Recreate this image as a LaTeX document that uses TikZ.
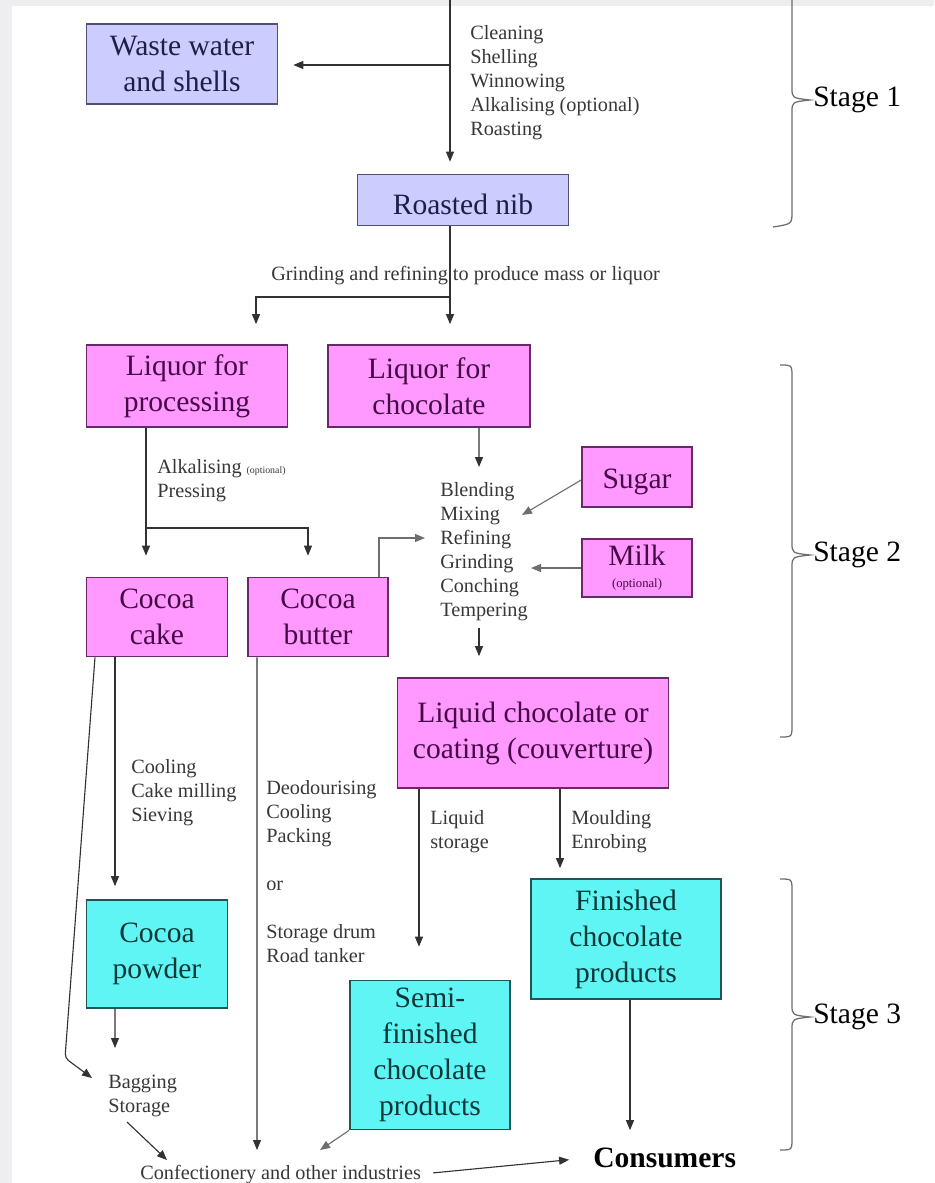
\documentclass[tikz,border=0pt]{standalone}
\usepackage{fontspec}
\setmainfont{Liberation Serif}
\usetikzlibrary{arrows.meta,calc}
\definecolor{ink}{RGB}{50,50,50}
\definecolor{softink}{RGB}{110,110,110}
\definecolor{nibfill}{RGB}{204,204,255}
\definecolor{nibedge}{RGB}{80,80,115}
\definecolor{nibtext}{RGB}{30,30,70}
\definecolor{liqfill}{RGB}{255,153,255}
\definecolor{liqedge}{RGB}{105,40,105}
\definecolor{liqtext}{RGB}{70,10,70}
\definecolor{prodfill}{RGB}{95,245,245}
\definecolor{prodedge}{RGB}{30,85,85}
\definecolor{prodtext}{RGB}{10,55,55}
\definecolor{labelgray}{RGB}{55,55,55}
\definecolor{framegray}{RGB}{238,238,241}
\tikzset{
  flow/.style={-{Triangle[length=2.5mm,width=2mm]},line width=0.8pt,draw=ink},
  stagebrace/.style={line width=0.9pt,draw=softink},
  shellbox/.style={draw=nibedge,fill=nibfill,text=nibtext,line width=1.2pt,align=center,inner sep=0pt,
    font=\fontsize{21}{25.6}\selectfont,execute at begin node={\rule{0pt}{21.5pt}}},
  liquorbox/.style={shellbox,draw=liqedge,fill=liqfill,text=liqtext},
  productbox/.style={shellbox,draw=prodedge,fill=prodfill,text=prodtext},
  opslabel/.style={align=left,inner sep=0pt,anchor=base west,text=labelgray,font=\fontsize{14.4}{17}\selectfont},
  stagelabel/.style={anchor=west,inner sep=0pt,font=\fontsize{21}{25}\selectfont},
  boxsize/.style 2 args={minimum width=#1*0.025cm,minimum height=#2*0.025cm}
}
% right-hand brace: top, tip, bottom
\newcommand{\stagebrace}[3]{%
  \draw[stagebrace] (780,#1) .. controls (792,#1) .. (792,#1+12) -- (792,#2-12)
    .. controls (792,#2-2) .. (810,#2) .. controls (792,#2+2) .. (792,#2+12)
    -- (792,#3-12) .. controls (792,#3) .. (780,#3);}

\begin{document}
\begin{tikzpicture}[x=0.025cm,y=-0.025cm]
  \useasboundingbox (0,0) rectangle (934,1183);
  \fill[framegray] (0,0) rectangle (12,1183);
  \fill[framegray] (0,0) rectangle (934,6);

  % boxes
  \node[shellbox,boxsize={191}{80}] (waste) at (182,64) {Waste water\\and shells};
  \node[shellbox,boxsize={211}{51}] (nib) at (463,200) {Roasted nib};
  \node[liquorbox,boxsize={201}{82}] (lqproc) at (187,386) {Liquor for\\processing};
  \node[liquorbox,boxsize={202}{82}] (lqchoc) at (429,386) {Liquor for\\chocolate};
  \node[liquorbox,boxsize={110}{60}] (sugar) at (637,477) {Sugar};
  \node[liquorbox,boxsize={110}{58}] (milk) at (637,568) {Milk\\[-10pt]{\fontsize{9}{10}\selectfont(optional)}};
  \node[liquorbox,boxsize={141}{79}] (cake) at (157,617) {Cocoa\\cake};
  \node[liquorbox,boxsize={140}{79}] (butter) at (318,617) {Cocoa\\butter};
  \node[liquorbox,boxsize={271}{110}] (liquid) at (533,733) {Liquid chocolate or\\coating (couverture)};
  \node[productbox,boxsize={141}{108}] (powder) at (157,954) {Cocoa\\powder};
  \node[productbox,boxsize={190}{120}] (finished) at (626,939) {Finished\\chocolate\\products};
  \node[productbox,boxsize={160}{149}] (semi) at (430,1055) {Semi-\\finished\\chocolate\\products};

  % process steps (placed by the baseline of their last line)
  \node[opslabel] (cleanops) at (470,135) {Cleaning\\Shelling\\Winnowing\\Alkalising (optional)\\Roasting};
  \node[opslabel] (grind) at (271,280) {Grinding and refining to produce mass or liquor};
  \node[opslabel] (pressops) at (157,497) {Alkalising {\fontsize{7}{8}\selectfont(optional)}\\Pressing};
  \node[opslabel] (blendops) at (440,616) {Blending\\Mixing\\Refining\\Grinding\\Conching\\Tempering};
  \node[opslabel] (cakeops) at (131,821) {Cooling\\Cake milling\\Sieving};
  \node[opslabel] (butterops) at (266,962) {Deodourising\\Cooling\\Packing\\[17pt]or\\[17pt]Storage drum\\Road tanker};
  \node[opslabel] (storeops) at (430,848) {Liquid\\storage};
  \node[opslabel] (mouldops) at (571,848) {Moulding\\Enrobing};
  \node[opslabel] (bagops) at (108,1112) {Bagging\\Storage};
  \node[opslabel] (confect) at (140,1179) {Confectionery and other industries};
  \node[opslabel,text=black,font=\fontsize{21}{25}\selectfont\bfseries] (consumers) at (593,1167) {Consumers};

  % stage 1
  \coordinate (feed) at (450,0);
  \coordinate (shellout) at (450,65);
  \draw[flow,shorten >=3mm] (feed) -- (feed |- nib.north);
  \draw[flow,shorten >=3.75mm] (shellout) -- (waste.east |- shellout);

  % stage 2
  \coordinate (split) at (450,297);
  \draw[flow,shorten >=5mm] (nib.south -| feed) -- (lqchoc.north -| feed);
  \draw[flow,shorten >=5mm] (split) -| ([xshift=17.25mm]lqproc.north);
  \coordinate (pressout) at (146,528);
  \draw[flow,shorten >=5.25mm] (lqproc.south -| pressout) -- (cake.north -| pressout);
  \draw[flow,shorten >=5.25mm] (pressout) -| ([xshift=-2.5mm]butter.north);
  \coordinate (mixtop) at (479,467);
  \coordinate (mixbot) at (479,628);
  \coordinate (sugarin) at (522,515);
  \coordinate (milkin) at (531,568);
  \coordinate (butterin) at (425,538);
  \draw[flow] ([xshift=12.5mm]lqchoc.south) -- (mixtop);
  \draw[flow,draw=softink] ([yshift=-0.75mm]sugar.west) -- (sugarin);
  \draw[flow,draw=softink] (milk.west) -- (milkin);
  \draw[flow,draw=softink] ([xshift=15.25mm]butter.north) |- (butterin);
  \draw[flow,shorten >=5.25mm] (mixbot) -- (liquid.north -| mixbot);

  % stage 3
  \coordinate (bend) at (65,1058);
  \coordinate (bagin) at (92,1078);
  \coordinate (bagtop) at (115,1048);
  \coordinate (bagout) at (127,1122);
  \coordinate (confin) at (167,1160);
  \coordinate (drumin) at (257,1150);
  \coordinate (semiin) at (320,1150);
  \draw[flow,shorten >=3.25mm] ([xshift=-10.5mm]cake.south) -- ([xshift=-10.5mm]powder.north);
  \draw[flow,rounded corners=3pt] ([xshift=-15.5mm]cake.south) -- (bend) -- (bagin);
  \draw[flow] ([xshift=-10.5mm]powder.south) -- (bagtop);
  \draw[flow] (bagout) -- (confin);
  \draw[flow] ([xshift=-15.25mm]butter.south) -- (drumin);
  \draw[flow,shorten >=8.25mm] ([xshift=-28.5mm]liquid.south) coordinate (storeout) -- (storeout |- semi.north);
  \draw[flow,shorten >=2.5mm] ([xshift=6.75mm]liquid.south) coordinate (mouldout) -- (mouldout |- finished.north);
  \draw[flow,shorten >=4.25mm] ([xshift=1mm]finished.south) coordinate (packout) -- (packout |- consumers.north);
  \draw[flow,draw=softink] (semi.south west) -- (semiin);
  \draw[flow,shorten <=3mm,shorten >=6mm] (confect.east) -- (consumers.west);

  % stages
  \draw[stagebrace] (792,0) -- (792,88) .. controls (792,98) .. (810,100)
    .. controls (792,102) .. (792,112) -- (792,212) .. controls (792,224) .. (773,227);
  \stagebrace{365}{555}{737}
  \stagebrace{879}{1017}{1150}
  \node[stagelabel] (stage1) at (813,100) {Stage 1};
  \node[stagelabel] (stage2) at (813,555) {Stage 2};
  \node[stagelabel] (stage3) at (813,1017) {Stage 3};
\end{tikzpicture}
\end{document}
